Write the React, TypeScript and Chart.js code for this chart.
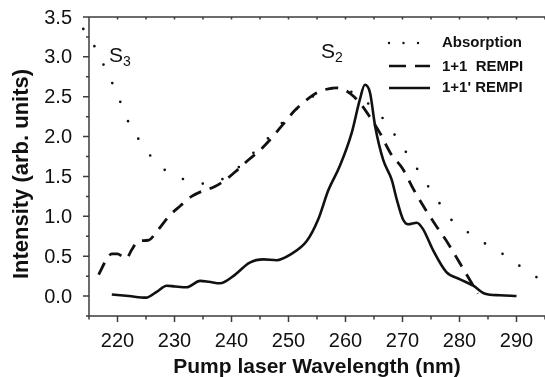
import React, { useEffect, useRef } from "react";
import { Chart, registerables } from "chart.js";

Chart.register(...registerables);

// ---- Data ----
const absorptionX = [214.0, 215.9, 217.5, 218.9, 220.2, 221.4, 223.0, 225.0, 227.8, 230.8, 233.6, 236.0, 238.5, 240.0, 242.4, 245.5, 248.3, 251.0, 253.8, 256.0, 258.4, 260.5, 263.0, 265.7, 268.0, 270.0, 272.0, 274.0, 276.0, 278.0, 281.1, 284.0, 286.9, 289.9, 292.8, 295.0];
const absorptionY = [3.35, 3.14, 2.91, 2.70, 2.49, 2.26, 2.05, 1.83, 1.61, 1.49, 1.42, 1.41, 1.47, 1.53, 1.70, 1.91, 2.13, 2.32, 2.48, 2.57, 2.61, 2.58, 2.47, 2.30, 2.09, 1.87, 1.66, 1.43, 1.22, 1.00, 0.82, 0.68, 0.56, 0.41, 0.27, 0.17];

const rempi11X = [216.7, 218.0, 219.0, 220.0, 220.8, 221.5, 222.5, 223.6, 225.4, 227.0, 229.0, 231.0, 233.0, 235.0, 237.0, 239.0, 241.0, 243.0, 245.0, 247.0, 249.0, 251.0, 253.0, 255.0, 257.0, 258.5, 260.0, 261.5, 263.0, 264.5, 266.0, 268.0, 270.0, 272.0, 274.0, 276.0, 278.0, 280.0, 282.0, 283.2];
const rempi11Y = [0.27, 0.45, 0.53, 0.53, 0.50, 0.47, 0.58, 0.69, 0.70, 0.82, 1.00, 1.13, 1.25, 1.32, 1.37, 1.46, 1.58, 1.71, 1.83, 1.98, 2.15, 2.32, 2.45, 2.55, 2.60, 2.61, 2.58, 2.50, 2.38, 2.22, 2.05, 1.78, 1.60, 1.33, 1.09, 0.87, 0.66, 0.42, 0.18, 0.03];

const rempi11pX = [219.0, 222.0, 225.0, 227.0, 228.6, 230.1, 232.1, 234.5, 236.0, 238.0, 240.3, 243.2, 245.6, 247.9, 250.3, 253.2, 255.2, 257.0, 259.0, 261.1, 262.5, 263.4, 264.3, 265.2, 266.6, 268.1, 269.0, 270.1, 271.0, 272.5, 273.6, 275.4, 277.7, 280.1, 282.4, 284.5, 287.1, 290.0];
const rempi11pY = [0.02, 0.0, -0.02, 0.06, 0.13, 0.12, 0.11, 0.19, 0.18, 0.16, 0.25, 0.42, 0.46, 0.45, 0.52, 0.69, 0.96, 1.33, 1.63, 2.05, 2.46, 2.65, 2.55, 2.13, 1.71, 1.46, 1.21, 0.96, 0.90, 0.92, 0.84, 0.57, 0.30, 0.21, 0.13, 0.03, 0.01, 0.0];

const seriesNames = ["Absorption", "1+1  REMPI", "1+1' REMPI"];
const xMajorTicks = [220, 230, 240, 250, 260, 270, 280, 290];
const xMinorTicks = [215, 225, 235, 245, 255, 265, 275, 285, 295];
const yMajorTicks = [0.0, 0.5, 1.0, 1.5, 2.0, 2.5, 3.0, 3.5];
const yMinorTicks = [-0.25, 0.25, 0.75, 1.25, 1.75, 2.25, 2.75, 3.25];
const xTitle = "Pump laser Wavelength (nm)";
const yTitle = "Intensity (arb. units)";

const toPoints = (xs: number[], ys: number[]) => xs.map((x, i) => ({ x, y: ys[i] }));

const INK = "#111";
const AXIS = "#3c3c3c";

const decorPlugin = {
  id: "decor",
  afterDraw(chart: any) {
    const ctx: CanvasRenderingContext2D = chart.ctx;
    const { left, right, top, bottom } = chart.chartArea;
    const xs = chart.scales.x;
    const ys = chart.scales.y;
    ctx.save();
    ctx.strokeStyle = AXIS;
    ctx.lineWidth = 1.5;
    ctx.setLineDash([]);
    ctx.beginPath();
    ctx.moveTo(left, bottom);
    ctx.lineTo(right, bottom);
    ctx.moveTo(left, top);
    ctx.lineTo(left, bottom);
    ctx.moveTo(left, top);
    ctx.lineTo(right, top);
    // y ticks
    yMajorTicks.forEach((v) => {
      const p = ys.getPixelForValue(v);
      ctx.moveTo(left - 6, p);
      ctx.lineTo(left, p);
    });
    yMinorTicks.forEach((v) => {
      const p = ys.getPixelForValue(v);
      ctx.moveTo(left - 3, p);
      ctx.lineTo(left, p);
    });
    // x ticks bottom & top
    xMajorTicks.forEach((v) => {
      const p = xs.getPixelForValue(v);
      ctx.moveTo(p, bottom);
      ctx.lineTo(p, bottom + 6);
      ctx.moveTo(p, top);
      ctx.lineTo(p, top + 2.5);
    });
    xMinorTicks.forEach((v) => {
      const p = xs.getPixelForValue(v);
      ctx.moveTo(p, bottom);
      ctx.lineTo(p, bottom + 3.5);
      ctx.moveTo(p, top);
      ctx.lineTo(p, top + 2.5);
    });
    ctx.stroke();

    // tick labels
    ctx.fillStyle = INK;
    ctx.font = "20px 'Liberation Sans', Arial, sans-serif";
    ctx.textAlign = "right";
    ctx.textBaseline = "middle";
    yMajorTicks.forEach((v) => {
      ctx.fillText(v.toFixed(1), 72, ys.getPixelForValue(v) + 1);
    });
    ctx.textAlign = "center";
    xMajorTicks.forEach((v) => {
      ctx.fillText(String(v), xs.getPixelForValue(v), 341);
    });

    // axis titles
    ctx.font = "bold 21px 'Liberation Sans', Arial, sans-serif";
    ctx.textBaseline = "alphabetic";
    ctx.fillText(xTitle, 317, 373);
    ctx.save();
    ctx.translate(28, 174);
    ctx.rotate(-Math.PI / 2);
    ctx.font = "bold 22px 'Liberation Sans', Arial, sans-serif";
    ctx.textAlign = "center";
    ctx.fillText(yTitle, 0, 0);
    ctx.restore();

    // state labels
    ctx.textAlign = "left";
    ctx.font = "21px 'Liberation Sans', Arial, sans-serif";
    ctx.fillText("S", 109, 62);
    ctx.fillText("S", 321, 58);
    ctx.font = "14px 'Liberation Sans', Arial, sans-serif";
    ctx.fillText("3", 123, 66);
    ctx.fillText("2", 335, 62);

    // legend
    const rows = [43, 66, 88];
    const styles = [
      { dash: [0, 14.5], cap: "round", w: 2.4 },
      { dash: [17, 9], cap: "butt", w: 2.6 },
      { dash: [], cap: "butt", w: 2.6 },
    ];
    rows.forEach((y, i) => {
      const s = styles[i];
      ctx.strokeStyle = INK;
      ctx.lineWidth = s.w;
      ctx.lineCap = s.cap as CanvasLineCap;
      ctx.setLineDash(s.dash);
      ctx.beginPath();
      ctx.moveTo(389, y);
      ctx.lineTo(430, y);
      ctx.stroke();
    });
    ctx.setLineDash([]);
    ctx.font = "bold 15px 'Liberation Sans', Arial, sans-serif";
    ctx.textBaseline = "alphabetic";
    ctx.fillStyle = INK;
    const textBase = [47, 71, 92];
    seriesNames.forEach((n, i) => ctx.fillText(n, 442, textBase[i]));
    ctx.restore();
  },
};

export default function App() {
  const canvasRef = useRef<HTMLCanvasElement | null>(null);
  useEffect(() => {
    if (!canvasRef.current) return;
    const chart = new Chart(canvasRef.current, {
      type: "line",
      data: {
        datasets: [
          {
            label: seriesNames[0],
            data: toPoints(absorptionX, absorptionY),
            borderColor: INK,
            borderWidth: 2.7,
            borderDash: [0, 20.5],
            borderCapStyle: "round",
            pointRadius: 0,
            cubicInterpolationMode: "monotone",
            clip: false as any,
          },
          {
            label: seriesNames[1],
            data: toPoints(rempi11X, rempi11Y),
            borderColor: INK,
            borderWidth: 2.8,
            borderDash: [13, 9],
            pointRadius: 0,
            cubicInterpolationMode: "monotone",
          },
          {
            label: seriesNames[2],
            data: toPoints(rempi11pX, rempi11pY),
            borderColor: INK,
            borderWidth: 2.6,
            pointRadius: 0,
            cubicInterpolationMode: "monotone",
          },
        ],
      },
      options: {
        responsive: false,
        animation: false,
        layout: { padding: { left: 89, right: 0, top: 17, bottom: 61 } },
        plugins: { legend: { display: false }, tooltip: { enabled: false } },
        scales: {
          x: { type: "linear", min: 215, max: 295, display: false },
          y: { type: "linear", min: -0.25, max: 3.5, display: false },
        },
      },
      plugins: [decorPlugin],
    });
    return () => chart.destroy();
  }, []);
  return (
    <div style={{ position: "absolute", left: 0, top: 0, width: 545, height: 377, background: "#fff" }}>
      <canvas ref={canvasRef} width={545} height={377} style={{ display: "block" }} />
    </div>
  );
}
